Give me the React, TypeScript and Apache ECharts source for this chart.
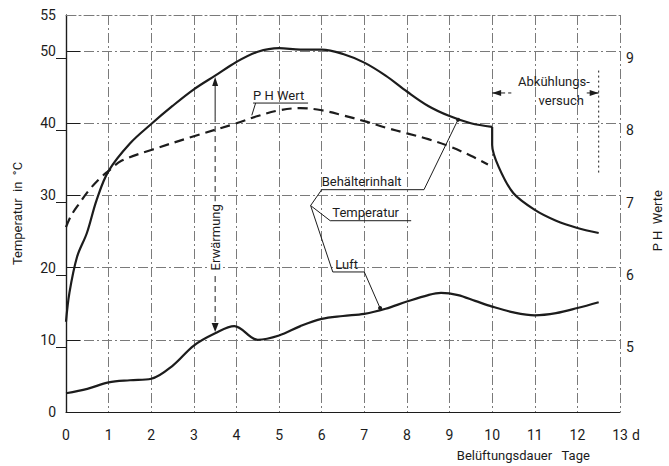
import React, { useEffect, useRef } from "react";
import * as echarts from "echarts";

// Days (x), temperature in °C (left axis), pH (right axis)
const dayTicks = [0, 1, 2, 3, 4, 5, 6, 7, 8, 9, 10, 11, 12, 13];
const tempTickLabels = [0, 10, 20, 30, 40, 50, 55];
const phTickLabels = [5, 6, 7, 8, 9];

// Behälterinhalt temperature (°C): heating phase up to day 10, then cooling test
const behaelterX = [0, 0.08, 0.26, 0.49, 0.72, 1.0, 1.5, 2.0, 2.5, 3.0, 3.5, 4.0, 4.5, 5.0, 5.5, 6.0, 6.5, 7.0, 7.5, 8.0, 8.5, 9.0, 9.5, 10.0, 10.0, 10.15, 10.5, 11.0, 11.5, 12.0, 12.5];
const behaelterT = [12.5, 16.5, 21.5, 24.8, 29.4, 33.4, 37.2, 39.9, 42.4, 44.7, 46.6, 48.5, 49.9, 50.4, 50.2, 50.2, 49.6, 48.4, 46.6, 44.4, 42.4, 41.0, 40.0, 39.5, 37.0, 34.0, 30.3, 28.0, 26.5, 25.5, 24.8];
const coolingStart = 23; // index where the cooling test begins (day 10)

// pH Wert
const phX = [0, 0.12, 0.3, 0.55, 0.8, 1.0, 1.3, 2.0, 3.0, 4.0, 4.5, 5.0, 5.5, 6.0, 6.5, 7.0, 7.5, 8.0, 8.5, 9.0, 9.5, 9.9];
const phV = [6.66, 6.82, 6.98, 7.18, 7.34, 7.44, 7.58, 7.73, 7.92, 8.1, 8.2, 8.28, 8.31, 8.28, 8.21, 8.13, 8.04, 7.96, 7.88, 7.78, 7.65, 7.53];

// Luft temperature (°C)
const luftX = [0, 0.5, 1.0, 1.5, 2.0, 2.5, 3.0, 3.5, 3.95, 4.5, 5.0, 5.5, 6.0, 6.5, 7.0, 7.5, 8.0, 8.5, 8.8, 9.2, 9.6, 10.0, 10.5, 11.0, 11.5, 12.0, 12.5];
const luftT = [2.6, 3.2, 4.1, 4.4, 4.6, 6.4, 9.2, 10.9, 11.9, 10.0, 10.6, 11.9, 12.9, 13.3, 13.6, 14.3, 15.3, 16.2, 16.5, 16.2, 15.4, 14.6, 13.8, 13.4, 13.7, 14.4, 15.2];

const FONT = 'Roboto, "DejaVu Sans", sans-serif';
const INK = "#1c1c1c";
const GRID = "#7a7a7a";

const zip = (xs: number[], ys: number[]) => xs.map((x, i) => [x, ys[i]]);

export default function App() {
  const ref = useRef<HTMLDivElement>(null);

  useEffect(() => {
    document.body.style.margin = "0";
    const chart = echarts.init(ref.current!, null, { renderer: "svg" });
    const behaelter = zip(behaelterX, behaelterT);
    const solidStyle = { color: INK, width: 2.2 };
    chart.setOption({
      animation: false,
      backgroundColor: "#fff",
      grid: { left: 66, right: 49, top: 15, bottom: 54, containLabel: false },
      xAxis: [
        {
          type: "value",
          min: 0,
          max: 13,
          interval: 1,
          axisLine: { show: true, lineStyle: { color: INK, width: 1.2 } },
          axisTick: { show: false },
          axisLabel: { color: INK, fontSize: 14, fontFamily: FONT, margin: 16, customValues: dayTicks },
          splitLine: { show: true, lineStyle: { color: GRID, width: 1, type: [10, 3, 2, 3] } },
        },
        {
          type: "value",
          position: "top",
          min: 0,
          max: 13,
          axisLine: { show: true, lineStyle: { color: GRID, width: 1, type: [10, 3, 2, 3] } },
          axisTick: { show: false },
          axisLabel: { show: false },
          splitLine: { show: false },
        },
      ],
      yAxis: [
        {
          type: "value",
          min: 0,
          max: 55,
          interval: 10,
          name: "Temperatur  in  °C",
          nameLocation: "middle",
          nameRotate: 90,
          nameGap: 42,
          nameTextStyle: { color: INK, fontSize: 13, fontFamily: FONT },
          axisLine: { show: true, lineStyle: { color: INK, width: 1.2 } },
          axisTick: { show: true, inside: true, length: 14, lineStyle: { color: INK }, customValues: [10, 20, 30, 40, 50] },
          axisLabel: { color: INK, fontSize: 14, fontFamily: FONT, margin: 10, customValues: tempTickLabels },
          splitLine: { show: true, lineStyle: { color: GRID, width: 1, type: [10, 3, 2, 3] } },
        },
        {
          type: "value",
          min: 4.1,
          max: 9.6,
          position: "right",
          axisLine: { show: true, lineStyle: { color: INK, width: 1.2 } },
          axisTick: { show: true, inside: true, length: 10, lineStyle: { color: INK }, customValues: phTickLabels },
          axisLabel: { color: INK, fontSize: 14, fontFamily: FONT, margin: 6, customValues: phTickLabels },
          splitLine: { show: false },
        },
      ],
      series: [
        {
          name: "Behälterinhalt",
          type: "line",
          xAxisIndex: 0,
          yAxisIndex: 0,
          data: behaelter.slice(0, coolingStart + 1),
          showSymbol: false,
          smooth: 0.35,
          lineStyle: solidStyle,
        },
        {
          name: "Behälterinhalt (Abkühlung)",
          type: "line",
          xAxisIndex: 0,
          yAxisIndex: 0,
          data: behaelter.slice(coolingStart),
          showSymbol: false,
          smooth: 0.3,
          lineStyle: solidStyle,
        },
        {
          name: "P H Wert",
          type: "line",
          xAxisIndex: 0,
          yAxisIndex: 1,
          data: zip(phX, phV),
          showSymbol: false,
          smooth: 0.35,
          lineStyle: { color: INK, width: 2.2, type: [10, 6] },
        },
        {
          name: "Luft",
          type: "line",
          xAxisIndex: 0,
          yAxisIndex: 0,
          data: zip(luftX, luftT),
          showSymbol: false,
          smooth: 0.35,
          lineStyle: solidStyle,
        },
      ],
    });

    const p = (x: number, t: number) => chart.convertToPixel({ seriesIndex: 0 }, [x, t]) as number[];
    const txt = (pt: number[], text: string, align = "left", size = 13, extra: any = {}) => ({
      type: "text",
      silent: true,
      x: pt[0],
      y: pt[1],
      z: 100,
      ...extra,
      style: { text, fill: INK, font: `${size}px ${FONT}`, textAlign: align, textVerticalAlign: "middle", ...(extra.style || {}) },
    });
    const line = (a: number[], b: number[], dash?: number[], w = 1) => ({
      type: "line",
      silent: true,
      z: 100,
      shape: { x1: a[0], y1: a[1], x2: b[0], y2: b[1] },
      style: { stroke: INK, lineWidth: w, lineDash: dash || null },
    });
    const poly = (pts: number[][]) => ({ type: "polygon", silent: true, z: 100, shape: { points: pts }, style: { fill: INK } });
    const dot = (pt: number[]) => ({ type: "circle", silent: true, z: 100, shape: { cx: pt[0], cy: pt[1], r: 2 }, style: { fill: INK } });

    const g: any[] = [];
    // P H Wert label
    g.push(txt(p(4.39, 43.8), "P H Wert"));
    g.push(line(p(4.39, 42.8), p(5.68, 42.8)));
    g.push(line(p(4.45, 42.8), p(4.36, 41.1)));

    // Erwärmung arrow
    const top = p(3.5, 46.4);
    const bot = p(3.5, 11.1);
    g.push(poly([top, [top[0] - 3, top[1] + 9], [top[0] + 3, top[1] + 9]]));
    g.push(line([top[0], top[1] + 8], p(3.5, 41)));
    g.push(line(p(3.5, 41), [bot[0], bot[1] - 8], [6, 4]));
    g.push(poly([bot, [bot[0] - 3.5, bot[1] - 9], [bot[0] + 3.5, bot[1] - 9]]));
    g.push(txt(p(3.5, 24.2), "Erwärmung", "center", 13, { rotation: Math.PI / 2, style: { backgroundColor: "#fff", padding: [1, 3] } }));

    // Behälterinhalt / Temperatur / Luft labels
    g.push(txt(p(6.0, 31.9), "Behälterinhalt"));
    g.push(line(p(5.98, 30.8), p(8.4, 30.8)));
    g.push(line(p(8.4, 30.8), p(9.2, 40.5)));
    g.push(dot(p(9.2, 40.5)));
    g.push(txt(p(6.25, 27.6), "Temperatur"));
    g.push(line(p(6.2, 26.5), p(8.1, 26.5)));
    g.push({
      type: "polyline",
      silent: true,
      z: 100,
      shape: { points: [p(6.0, 30.8), p(5.74, 28.6), p(6.26, 19.4)] },
      style: { stroke: INK, lineWidth: 1, fill: "none" },
    });
    g.push(line(p(5.74, 28.6), p(6.2, 26.5)));
    g.push(txt(p(6.32, 20.4), "Luft"));
    g.push(line(p(6.26, 19.4), p(7.0, 19.4)));
    g.push(line(p(7.0, 19.4), p(7.37, 14.4)));
    g.push(dot(p(7.37, 14.4)));

    // Abkühlungsversuch
    g.push(txt(p(11.45, 45.8), "Abkühlungs-", "center"));
    g.push(txt(p(11.62, 43.2), "versuch", "center"));
    const l = p(10, 44.2);
    const r = p(12.5, 44.2);
    g.push(line(l, p(10.45, 44.2), [5, 3]));
    g.push(poly([l, [l[0] + 9, l[1] - 3], [l[0] + 9, l[1] + 3]]));
    g.push(line(p(12.22, 44.2), r, [5, 3]));
    g.push(poly([r, [r[0] - 9, r[1] - 3], [r[0] - 9, r[1] + 3]]));
    g.push(line(p(12.5, 47.3), p(12.5, 33), [2, 3]));

    // axis names drawn as text
    const d = p(13, 0);
    g.push(txt([d[0] + 12, d[1] + 23], "d", "left", 14));
    g.push(txt(p(9.17, 0).map((v, i) => (i === 1 ? v + 43 : v)), "Belüftungsdauer   Tage", "left", 13));
    const ph = p(13, 26.5);
    g.push(txt([ph[0] + 37, ph[1]], "P H  Werte", "center", 13, { rotation: Math.PI / 2 }));

    chart.setOption({ graphic: g });
    return () => chart.dispose();
  }, []);

  return <div ref={ref} style={{ width: 669, height: 466 }} />;
}
